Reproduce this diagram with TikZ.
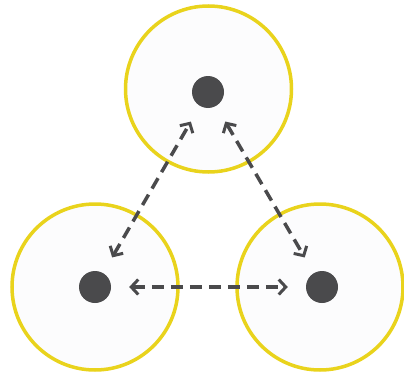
\documentclass[tikz,border=0pt]{standalone}
\usetikzlibrary{arrows.meta}
\definecolor{ring}{HTML}{E9D31C}
\definecolor{fillc}{HTML}{FCFCFD}
\definecolor{ink}{HTML}{4A4A4C}
\begin{document}
\begin{tikzpicture}[x=1pt,y=-1pt,
  bigcircle/.style={circle,draw=ring,fill=fillc,line width=3.5pt,minimum size=166pt,inner sep=0pt},
  dot/.style={circle,fill=ink,minimum size=32pt,inner sep=0pt},
  link/.style={draw=ink,line width=3.5pt,dash pattern=on 12pt off 7pt,
    {Straight Barb[length=7pt,width=15pt,line width=3pt]}-{Straight Barb[length=7pt,width=15pt,line width=3pt]},
    shorten <=18pt,shorten >=18pt}]
\useasboundingbox (0,0) rectangle (404,372);
\node[bigcircle] (A) at (208.5,89) {};
\node[bigcircle] (B) at (95,287) {};
\node[bigcircle] (C) at (320,287) {};
\node[dot] (a) at (208,92) {};
\node[dot] (b) at (95,287) {};
\node[dot] (c) at (322,287) {};
\draw[link] (b) -- (a);
\draw[link] (a) -- (c);
\draw[link] (b) -- (c);
\end{tikzpicture}
\end{document}
